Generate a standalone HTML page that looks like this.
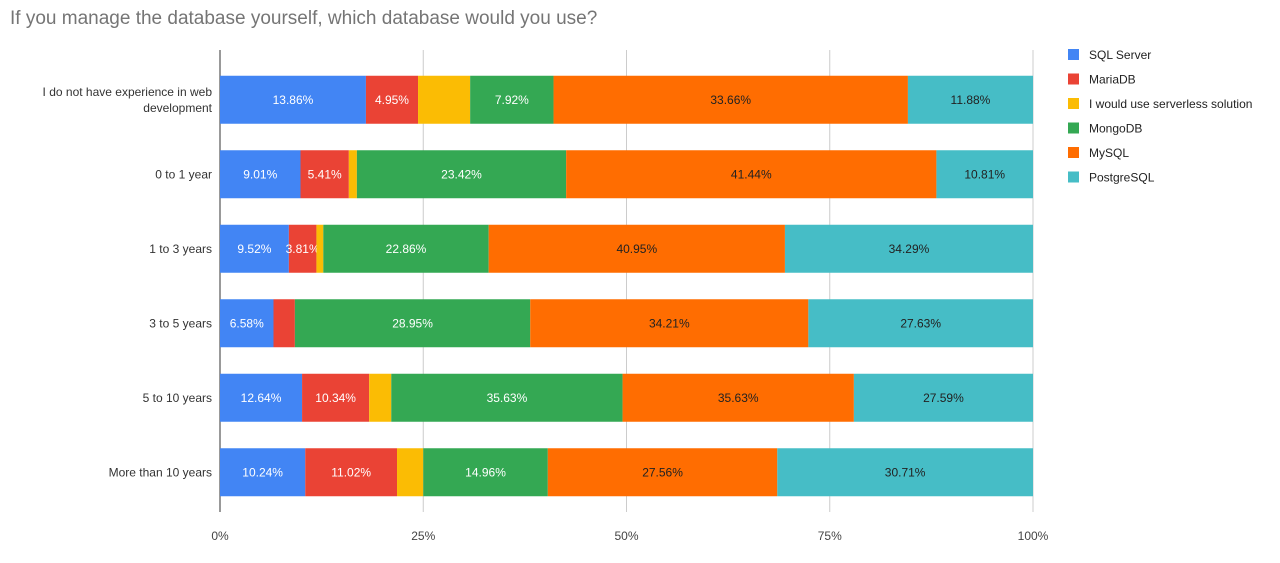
<!DOCTYPE html>
<html><head><meta charset="utf-8"><style>
body{margin:0;background:#fff;font-family:"Liberation Sans",Arial,sans-serif}
svg text{font-family:"Liberation Sans",Arial,sans-serif}
</style></head><body>
<svg id="c" width="1280" height="558">
<text x="10" y="24" font-size="19" fill="#757575">If you manage the database yourself, which database would you use?</text>
</svg>
<script>
const categories=[["I do not have experience in web","development"],["0 to 1 year"],["1 to 3 years"],["3 to 5 years"],["5 to 10 years"],["More than 10 years"]];
const seriesNames=["SQL Server","MariaDB","I would use serverless solution","MongoDB","MySQL","PostgreSQL"];
const sqlServer=[13.86,9.01,9.52,6.58,12.64,10.24];
const mariaDB=[4.95,5.41,3.81,2.63,10.34,11.02];
const serverless=[4.95,0.9,0.95,0,3.4,3.15];
const mongoDB=[7.92,23.42,22.86,28.95,35.63,14.96];
const mySQL=[33.66,41.44,40.95,34.21,35.63,27.56];
const postgreSQL=[11.88,10.81,34.29,27.63,27.59,30.71];
const xTicks=["0%","25%","50%","75%","100%"];
const series=[sqlServer,mariaDB,serverless,mongoDB,mySQL,postgreSQL];
const colors=["#4285f4","#ea4335","#fbbc04","#34a853","#ff6d01","#46bdc6"];
const labelColors=["#fff","#fff","#fff","#fff","#222","#222"];
const showLabels=[true,true,false,true,true,true];
const svg=document.getElementById('c');const NS="http://www.w3.org/2000/svg";
const X0=220,X1=1033,Y0=62,rowH=74.5,barH=48;
const xs=f=>X0+f*(X1-X0);
function el(t,a,p){const e=document.createElementNS(NS,t);for(const k in a)e.setAttribute(k,a[k]);(p||svg).appendChild(e);return e;}
xTicks.forEach((t,i)=>{const x=xs(i/4);
const g=el('line',{x1:x,x2:x,y1:50,y2:512,stroke:i==0?'#333':'#ccc','stroke-width':1});

const tx=el('text',{x:x,y:540,'font-size':12,fill:'#444','text-anchor':'middle'});tx.textContent=t;
});
categories.forEach((c,r)=>{
const yc=Y0+r*rowH+rowH/2+0.5,yt=yc-barH/2;
const tot=series.reduce((s,a)=>s+a[r],0);let acc=0;
const lab=el('text',{x:212,y:yc+4-(c.length-1)*8,'font-size':12,fill:'#333','text-anchor':'end'});

c.forEach((l,i)=>{const ts=el('tspan',{x:212,dy:i?16:0},lab);ts.textContent=l;});
series.forEach((a,s)=>{const v=a[r];const xa=xs(acc/tot),xb=xs((acc+v)/tot);acc+=v;
if(v<=0)return;
const b=el('rect',{x:xa,y:yt,width:xb-xa,height:barH,fill:colors[s]});

if(showLabels[s]&&xb-xa>26){const t=el('text',{x:(xa+xb)/2,y:yc+4,'font-size':12,fill:labelColors[s],'text-anchor':'middle'});
t.textContent=v.toFixed(2)+'%';}
});});
seriesNames.forEach((n,i)=>{const y=49+i*24.5;
const g=el('g',{});
el('rect',{x:1068,y:y,width:11,height:11,fill:colors[i]},g);
const t=el('text',{x:1089,y:y+10,'font-size':12,fill:'#222'},g);t.textContent=n;});
</script>
</body></html>
